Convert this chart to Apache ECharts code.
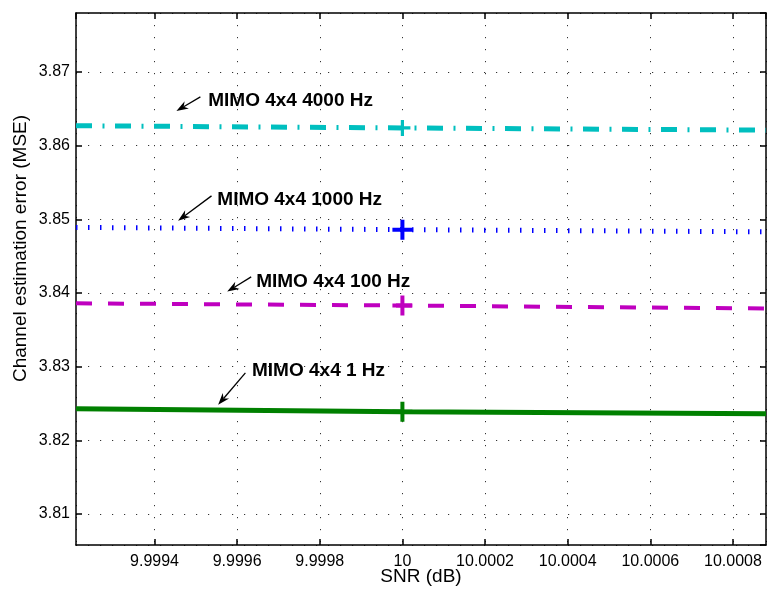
<!DOCTYPE html>
<html>
<head>
<meta charset="utf-8">
<script src="https://cdn.jsdelivr.net/npm/echarts@6/dist/echarts.min.js"></script>
<style>
html,body{margin:0;padding:0;background:#fff;}
#chart{width:767px;height:590px;}
</style>
</head>
<body>
<div id="chart"></div>
<script>
// ---- data ----
const snrValues = [9.99921, 10, 10.00088];
const mse4000Hz = [3.8627, 3.8624, 3.8621];
const mse1000Hz = [3.8489, 3.8486, 3.8483];
const mse100Hz  = [3.8386, 3.8383, 3.8379];
const mse1Hz    = [3.8243, 3.8239, 3.8236];
const markerIndex = 1;
const seriesNames = ['MIMO 4x4 4000 Hz', 'MIMO 4x4 1000 Hz', 'MIMO 4x4 100 Hz', 'MIMO 4x4 1 Hz'];
// annotation anchors in data coordinates: text left-middle, arrow tail, arrow tip
const annoText  = [[9.999530, 3.86611], [9.999552, 3.85268], [9.999646, 3.84155], [9.999636, 3.82948]];
const annoTail  = [[9.999511, 3.86661], [9.999538, 3.85318], [9.999634, 3.84219], [9.999620, 3.82916]];
const annoTip   = [[9.999453, 3.86471], [9.999457, 3.84979], [9.999576, 3.84019], [9.999554, 3.82482]];
const xTitle = 'SNR (dB)';
const yTitle = 'Channel estimation error (MSE)';

const FONT = "'Liberation Sans', Arial, Helvetica, sans-serif";
const PLUS = 'path://M8,0H12V8H20V12H12V20H8V12H0V8H8Z';

function mkData(vals, size) {
  return vals.map((v, i) => ({
    value: [snrValues[i], v],
    symbol: i === markerIndex ? PLUS : 'none',
    symbolSize: i === markerIndex ? size : 0
  }));
}

const chart = echarts.init(document.getElementById('chart'), null, {renderer: 'canvas'});

const X_MIN = 9.99921, X_MAX = 10.00088, Y_MIN = 3.8058, Y_MAX = 3.878;
const gridDash = {color: '#333', width: 1, type: [1.2, 10.8]};
const option = {
  animation: false,
  backgroundColor: '#fff',
  grid: {left: 76, right: 1, top: 13, bottom: 45, containLabel: false},
  xAxis: [{
    type: 'value', min: X_MIN, max: X_MAX, splitNumber: 8,
    axisLine: {lineStyle: {color: '#000', width: 1.5}},
    axisTick: {inside: true, length: 6, lineStyle: {color: '#000', width: 1.5}},
    axisLabel: {color: '#000', fontFamily: FONT, fontSize: 16, margin: 9,
      showMinLabel: false, showMaxLabel: false,
      formatter: v => Number(v.toFixed(4)).toString()},
    splitLine: {show: true, lineStyle: gridDash}
  }, {
    type: 'value', position: 'top', min: X_MIN, max: X_MAX, splitNumber: 8,
    axisLine: {lineStyle: {color: '#000', width: 1.5}},
    axisTick: {inside: true, length: 6, lineStyle: {color: '#000', width: 1.5}},
    axisLabel: {show: false}, splitLine: {show: false}
  }],
  yAxis: [{
    type: 'value', min: Y_MIN, max: Y_MAX, splitNumber: 7,
    axisLine: {show: true, lineStyle: {color: '#000', width: 1.5}},
    axisTick: {show: true, inside: true, length: 6, lineStyle: {color: '#000', width: 1.5}},
    axisLabel: {color: '#000', fontFamily: FONT, fontSize: 16, margin: 6,
      showMinLabel: false, showMaxLabel: false,
      formatter: v => v.toFixed(2)},
    splitLine: {show: true, lineStyle: gridDash}
  }, {
    type: 'value', position: 'right', min: Y_MIN, max: Y_MAX, splitNumber: 7,
    axisLine: {show: true, lineStyle: {color: '#000', width: 1.5}},
    axisTick: {show: true, inside: true, length: 6, lineStyle: {color: '#000', width: 1.5}},
    axisLabel: {show: false}, splitLine: {show: false}
  }],
  series: [
    {name: seriesNames[0], type: 'line', data: mkData(mse4000Hz, 16), color: '#00bfbf',
     lineStyle: {color: '#00bfbf', width: 5, type: [16, 10.5, 2, 10.5], cap: 'butt'}, itemStyle: {color: '#00bfbf'}, silent: true, z: 3},
    {name: seriesNames[1], type: 'line', data: mkData(mse1000Hz, 20), color: '#0000ff',
     lineStyle: {color: '#0000ff', width: 5, type: [1.5, 10.5], cap: 'butt'}, itemStyle: {color: '#0000ff'}, silent: true, z: 3},
    {name: seriesNames[2], type: 'line', data: mkData(mse100Hz, 20), color: '#bf00bf',
     lineStyle: {color: '#bf00bf', width: 4, type: [16, 16], cap: 'butt'}, itemStyle: {color: '#bf00bf'}, silent: true, z: 3},
    {name: seriesNames[3], type: 'line', data: mkData(mse1Hz, 20), color: '#008000',
     lineStyle: {color: '#008000', width: 5}, itemStyle: {color: '#008000'}, silent: true, z: 3}
  ]
};
chart.setOption(option);

const graphics = [];
graphics.push({type: 'text', x: 421, y: 577, silent: true,
  style: {text: xTitle, font: '19px ' + FONT, fill: '#000', textAlign: 'center', textVerticalAlign: 'middle'}});
graphics.push({type: 'text', x: 21, y: 248.5, rotation: Math.PI / 2, silent: true,
  style: {text: yTitle, font: '19px ' + FONT, fill: '#000', textAlign: 'center', textVerticalAlign: 'middle'}});

for (let i = 0; i < seriesNames.length; i++) {
  const t = chart.convertToPixel({gridIndex: 0}, annoText[i]);
  const a = chart.convertToPixel({gridIndex: 0}, annoTail[i]);
  const b = chart.convertToPixel({gridIndex: 0}, annoTip[i]);
  graphics.push({type: 'text', x: t[0], y: t[1], silent: true, z: 10,
    style: {text: seriesNames[i], font: 'bold 19px ' + FONT, fill: '#000', textAlign: 'left', textVerticalAlign: 'middle'}});
  const dx = b[0] - a[0], dy = b[1] - a[1];
  const L = Math.hypot(dx, dy), ux = dx / L, uy = dy / L, px = -uy, py = ux;
  const hl = 12, hw = 4.2;
  const base = [b[0] - ux * hl, b[1] - uy * hl];
  const notch = [b[0] - ux * hl * 0.7, b[1] - uy * hl * 0.7];
  graphics.push({type: 'line', silent: true, z: 10,
    shape: {x1: a[0], y1: a[1], x2: notch[0], y2: notch[1]},
    style: {stroke: '#000', lineWidth: 1.3}});
  graphics.push({type: 'polygon', silent: true, z: 10,
    shape: {points: [b, [base[0] + px * hw, base[1] + py * hw], notch, [base[0] - px * hw, base[1] - py * hw]]},
    style: {fill: '#000'}});
}
chart.setOption({graphic: graphics});
</script>
</body>
</html>
